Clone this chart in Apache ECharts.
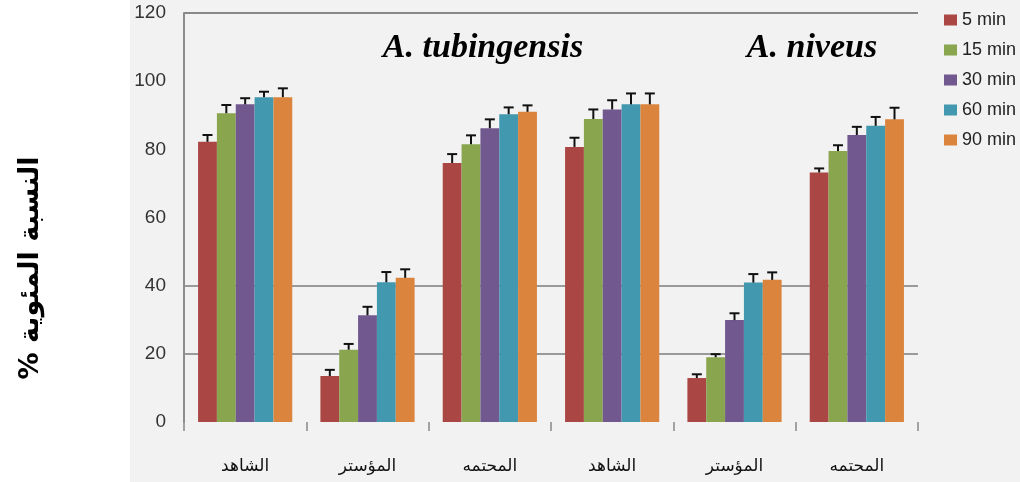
<!DOCTYPE html>
<html>
<head>
<meta charset="utf-8">
<script src="https://cdn.jsdelivr.net/npm/echarts@6/dist/echarts.min.js"></script>
<style>
html, body { margin: 0; padding: 0; background: #fff; }
#ct1 { width: 1020px; height: 482px; }
</style>
</head>
<body>
<div id="ct1"></div>
<script>
// groups along the x axis
var categories = ['الشاهد', 'المؤستر', 'المحتمه', 'الشاهد', 'المؤستر', 'المحتمه'];
var seriesNames = ['5 min', '15 min', '30 min', '60 min', '90 min'];
var yTicks = [0, 20, 40, 60, 80, 100, 120];

// percentage per time
var m5  = [82.2, 13.5, 76.0, 80.7, 12.9, 73.2];
var m15 = [90.6, 21.2, 81.5, 88.9, 19.0, 79.5];
var m30 = [93.2, 31.3, 86.2, 91.7, 29.9, 84.2];
var m60 = [95.3, 41.0, 90.3, 93.2, 40.9, 86.9];
var m90 = [95.3, 42.3, 91.0, 93.2, 41.7, 88.8];

// error bars (upper only)
var e5  = [2.0, 1.8, 2.6, 2.7, 1.1, 1.2];
var e15 = [2.4, 1.7, 2.6, 2.8, 0.9, 1.7];
var e30 = [1.8, 2.5, 2.6, 2.7, 2.0, 2.4];
var e60 = [1.6, 3.0, 2.0, 3.2, 2.5, 2.6];
var e90 = [2.6, 2.5, 1.9, 3.2, 2.2, 3.4];

var values = [m5, m15, m30, m60, m90];
var errors = [e5, e15, e30, e60, e90];
var colors = ['#AA4643', '#89A54E', '#71588F', '#4198AF', '#DB843D'];
var catGap = 0.23;

var series = [];
var errData = [];
for (var s = 0; s < values.length; s++) {
    series.push({
        name: seriesNames[s],
        type: 'bar',
        barGap: 0,
        barCategoryGap: (catGap * 100) + '%',
        itemStyle: { color: colors[s] },
        data: values[s]
    });
    for (var c = 0; c < categories.length; c++) {
        errData.push([c, s, values[s][c], errors[s][c]]);
    }
}

series.push({
    type: 'custom',
    z: 5,
    silent: true,
    encode: { x: 0, y: 2 },
    data: errData,
    renderItem: function (params, api) {
        var cat = api.value(0), s = api.value(1);
        var v = api.value(2), e = api.value(3);
        var p1 = api.coord([cat, v]);
        var p2 = api.coord([cat, v + e]);
        var band = api.size([1, 0])[0];
        var bw = band * (1 - catGap) / 5;
        var x = p1[0] + (s - 2) * bw;
        var st = { stroke: '#111', lineWidth: 2 };
        return {
            type: 'group',
            children: [
                { type: 'line', shape: { x1: x, y1: p1[1], x2: x, y2: p2[1] }, style: st },
                { type: 'line', shape: { x1: x - 5, y1: p2[1], x2: x + 5, y2: p2[1] }, style: st }
            ]
        };
    }
});

var option1 = {
    backgroundColor: '#fff',
    animation: false,
    color: colors,
    graphic: [
        { type: 'rect', z: -10, silent: true, shape: { x: 130, y: 0, width: 890, height: 482 }, style: { fill: '#f2f2f2' } },
        { type: 'text', x: 31, y: 268, rotation: Math.PI / 2, style: { text: '% النسبة المئوية', font: 'bold 27px "DejaVu Sans"', fill: '#000', textAlign: 'center', textVerticalAlign: 'middle' } },
        { type: 'text', x: 483, y: 48, style: { text: 'A. tubingensis', font: 'italic bold 34px "Liberation Serif"', fill: '#000', textAlign: 'center', textVerticalAlign: 'middle' } },
        { type: 'text', x: 812, y: 48, style: { text: 'A. niveus', font: 'italic bold 34px "Liberation Serif"', fill: '#000', textAlign: 'center', textVerticalAlign: 'middle' } }
    ],
    legend: {
        orient: 'vertical',
        left: 939,
        top: 6,
        itemWidth: 13,
        itemHeight: 11,
        itemGap: 12,
        icon: 'rect',
        textStyle: { fontFamily: 'Liberation Sans', fontSize: 18, color: '#222', lineHeight: 18 },
        data: seriesNames
    },
    grid: { left: 184, right: 102, top: 13, bottom: 60 },
    xAxis: {
        type: 'category',
        data: categories,
        axisLine: { show: false },
        axisTick: { show: true, length: 9, lineStyle: { color: '#888', width: 1.5 } },
        axisLabel: { margin: 36, fontFamily: 'DejaVu Sans', fontSize: 17, color: '#111' }
    },
    yAxis: {
        type: 'value',
        min: yTicks[0],
        max: yTicks[yTicks.length - 1],
        interval: 20,
        axisLine: { show: true, lineStyle: { color: '#8c8c8c', width: 2 } },
        axisTick: { show: false },
        axisLabel: { margin: 18, fontFamily: 'Liberation Sans', fontSize: 19, color: '#333' },
        splitLine: {
            show: true,
            lineStyle: {
                width: 2,
                color: ['rgba(0,0,0,0)', '#9a9a9a', '#9a9a9a', 'rgba(0,0,0,0)', 'rgba(0,0,0,0)', 'rgba(0,0,0,0)', '#888']
            }
        }
    },
    series: series
};

var myChart1 = echarts.init(document.getElementById('ct1'));
myChart1.setOption(option1, true);
</script>
</body>
</html>
